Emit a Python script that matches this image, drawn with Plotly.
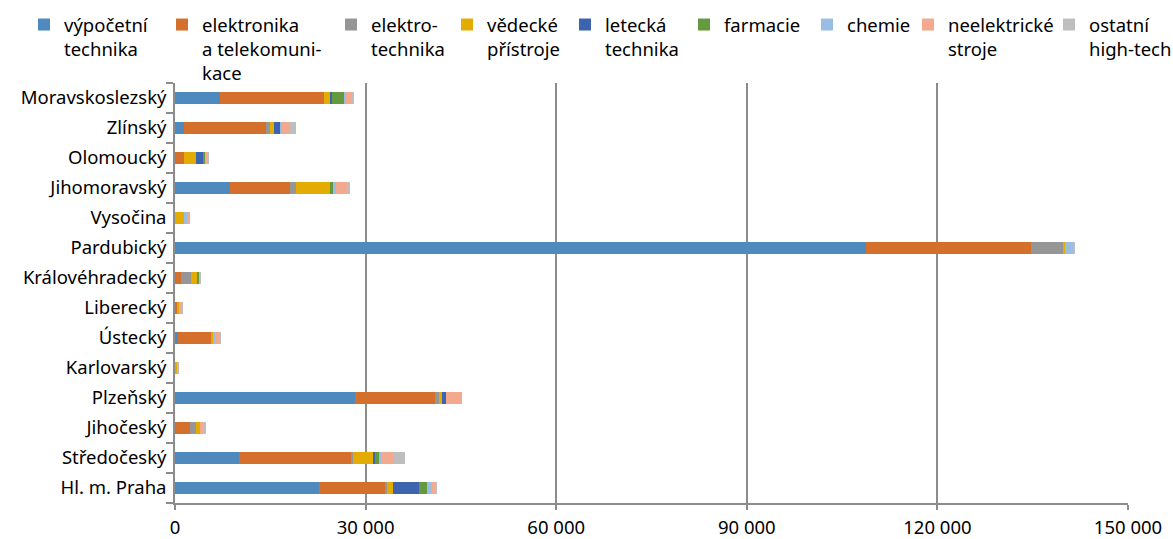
import plotly.graph_objects as go

# ---- data (bottom -> top as drawn) ----
regions = ["Hl. m. Praha", "Středočeský", "Jihočeský", "Plzeňský", "Karlovarský",
           "Ústecký", "Liberecký", "Královéhradecký", "Pardubický", "Vysočina",
           "Jihomoravský", "Olomoucký", "Zlínský", "Moravskoslezský"]

vypocetni_technika = [22700, 10150, 0, 28400, 0, 400, 0, 0, 108700, 0, 8600, 0, 1400, 7100]
elektronika = [10400, 17600, 2300, 12600, 0, 5350, 400, 1000, 26100, 0, 9450, 1350, 12900, 16400]
elektrotechnika = [300, 300, 950, 650, 0, 0, 0, 1550, 5050, 0, 950, 0, 650, 0]
vedecke_pristroje = [950, 3150, 650, 300, 400, 300, 300, 950, 300, 1350, 5350, 1900, 650, 950]
letecka_technika = [4100, 300, 0, 650, 0, 0, 0, 0, 0, 0, 0, 1250, 950, 300]
farmacie = [1250, 650, 0, 0, 0, 0, 0, 300, 0, 0, 650, 300, 0, 1900]
chemie = [650, 300, 0, 0, 0, 300, 0, 0, 1250, 650, 300, 0, 300, 300]
neelektricke_stroje = [650, 1900, 650, 2500, 0, 650, 300, 0, 0, 300, 1900, 300, 1250, 950]
ostatni_high_tech = [300, 1900, 300, 0, 300, 300, 300, 300, 300, 0, 300, 300, 950, 300]

series_names = ["výpočetní<br>technika", "elektronika<br>a telekomuni-<br>kace",
                "elektro-<br>technika", "vědecké<br>přístroje", "letecká<br>technika",
                "farmacie", "chemie", "neelektrické<br>stroje", "ostatní<br>high-tech"]
series_values = [vypocetni_technika, elektronika, elektrotechnika, vedecke_pristroje,
                 letecka_technika, farmacie, chemie, neelektricke_stroje, ostatni_high_tech]

x_tickvals = [0, 30000, 60000, 90000, 120000, 150000]
x_ticktext = ["0", "30 000", "60 000", "90 000", "120 000", "150 000"]

# ---- styles ----
colors = ["#4E8ABE", "#D4702B", "#969696", "#E4AB00", "#3C64AF",
          "#65993D", "#9ABDE3", "#F2A98E", "#BEBEBE"]
legend_left_px = [24, 162, 331, 447, 565, 684, 807, 908, 1049]
W, H = 1173, 539
FONT = "Noto Sans, Open Sans, sans-serif"
FS = 18.5
GRID = "#8C8C8C"

fig = go.Figure()
for i, (name, vals) in enumerate(zip(series_names, series_values)):
    lg = "legend" if i == 0 else f"legend{i+1}"
    fig.add_trace(go.Bar(
        y=regions, x=vals, name=name, orientation="h",
        marker=dict(color=colors[i], line=dict(width=0)),
        width=0.4, legend=lg,
    ))

layout_legends = {}
for i, px in enumerate(legend_left_px):
    key = "legend" if i == 0 else f"legend{i+1}"
    layout_legends[key] = dict(
        x=px / W, xref="container", xanchor="left",
        y=1 - 6 / H, yref="container", yanchor="top",
        orientation="v", valign="top", bgcolor="rgba(0,0,0,0)",
        font=dict(family=FONT, size=FS, color="#000000"),
        itemwidth=30, borderwidth=0,
    )

fig.update_layout(
    width=W, height=H,
    barmode="stack",
    plot_bgcolor="white", paper_bgcolor="white",
    margin=dict(l=175, r=45, t=83, b=36, autoexpand=False),
    font=dict(family=FONT, size=FS, color="#000000"),
    showlegend=True,
    **layout_legends,
)

fig.update_xaxes(
    range=[0, 150000], tickvals=x_tickvals, ticktext=x_ticktext,
    showgrid=True, gridcolor=GRID, gridwidth=1.6,
    zeroline=False, showline=True, linecolor=GRID, linewidth=1.6,
    ticks="outside", ticklen=5, tickcolor=GRID, tickwidth=1.6,
    ticklabelstandoff=2,
    tickfont=dict(family=FONT, size=FS, color="#000000"),
)
fig.update_yaxes(
    categoryorder="array", categoryarray=regions,
    showgrid=False, zeroline=False, showline=True, linecolor=GRID, linewidth=1.6,
    ticks="outside", tickson="boundaries", ticklen=7, tickcolor=GRID, tickwidth=1.6,
    ticklabelstandoff=3,
    tickfont=dict(family=FONT, size=FS, color="#000000"),
)

fig.write_html(
    "out.html",
    config={"displayModeBar": False},
    post_script="document.body.style.margin='0';document.body.style.overflow='hidden';",
)
